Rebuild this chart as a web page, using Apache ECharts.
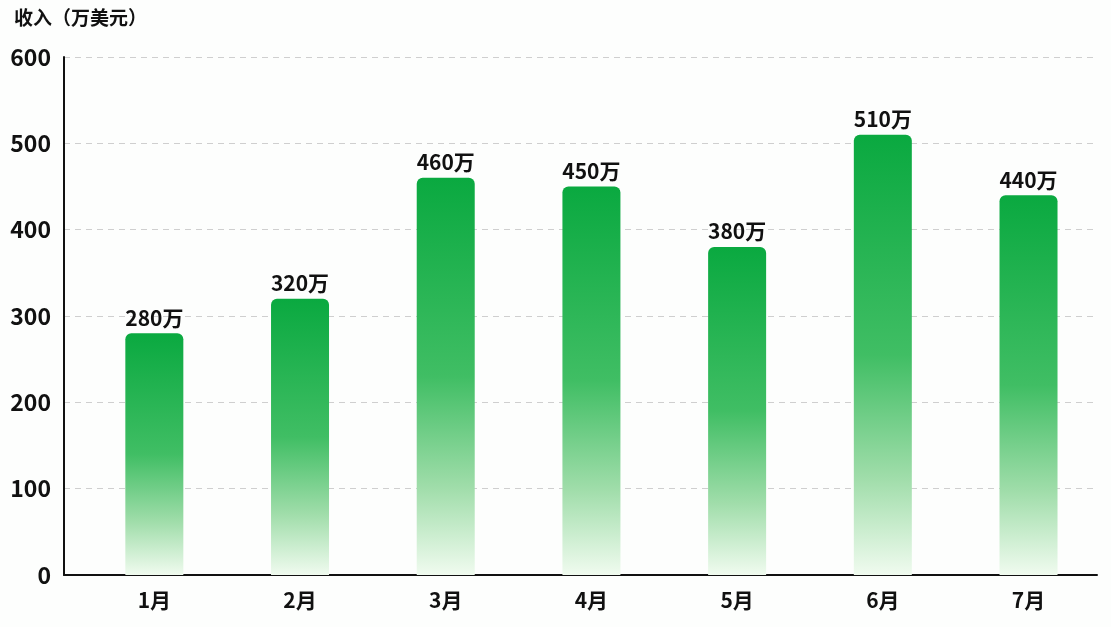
<!DOCTYPE html>
<html>
<head>
<meta charset="utf-8">
<script src="https://cdn.jsdelivr.net/npm/echarts@6/dist/echarts.min.js"></script>
<style>
html,body{margin:0;padding:0;background:#fdfefd;}
#c{width:1111px;height:627px;}
</style>
</head>
<body>
<div id="c"></div>
<script>
const months = ['1月','2月','3月','4月','5月','6月','7月'];
const revenue = [280, 320, 460, 450, 380, 510, 440];
const yTicks = [0, 100, 200, 300, 400, 500, 600];
const axisTitle = '收入（万美元）';
const unitSuffix = '万';

const FONT = '"Noto Sans CJK SC", "Noto Sans", sans-serif';
const chart = echarts.init(document.getElementById('c'), null, {renderer:'canvas'});

const barColor = new echarts.graphic.LinearGradient(0, 0, 0, 1, [
  {offset: 0, color: '#0aa940'},
  {offset: 0.5, color: '#40be64'},
  {offset: 0.78, color: '#a0ddaa'},
  {offset: 1, color: '#f0fbef'}
]);

chart.setOption({
  backgroundColor: '#fdfefd',
  animation: false,
  title: {
    text: axisTitle,
    left: 9, top: 3,
    textStyle: {fontFamily: FONT, fontSize: 19, fontWeight: 'bold', color: '#111'}
  },
  grid: {left: 64, right: 14, top: 57, bottom: 52, containLabel: false, outerBoundsMode: 'none'},
  xAxis: {
    type: 'value',
    min: -0.62,
    max: 6.47,
    axisLine: {show: true, onZero: false, lineStyle: {color: '#111', width: 2}},
    axisTick: {show: false},
    splitLine: {show: false},
    axisLabel: {
      customValues: months.map((m, i) => i),
      formatter: v => months[Math.round(v)] || '',
      margin: 15,
      fontFamily: FONT, fontSize: 21, fontWeight: 'bold', color: '#111'
    }
  },
  yAxis: {
    type: 'value',
    min: yTicks[0],
    max: yTicks[yTicks.length - 1],
    interval: 100,
    axisLine: {show: true, onZero: false, lineStyle: {color: '#111', width: 2}},
    axisTick: {show: false},
    splitLine: {show: true, lineStyle: {color: '#cfcfcf', type: [6, 5], width: 1}},
    axisLabel: {
      margin: 13,
      fontFamily: FONT, fontSize: 23, fontWeight: 'bold', color: '#111'
    }
  },
  series: [{
    type: 'bar',
    barWidth: 58,
    data: revenue.map((v, i) => [i, v]),
    itemStyle: {color: barColor, borderRadius: [6, 6, 0, 0]},
    label: {
      show: true,
      position: 'top',
      distance: 5,
      formatter: p => p.value[1] + unitSuffix,
      fontFamily: FONT, fontSize: 21, fontWeight: 'bold', color: '#111'
    }
  }]
});
</script>
</body>
</html>
